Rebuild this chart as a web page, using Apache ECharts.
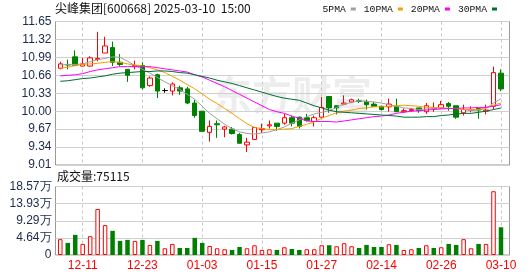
<!DOCTYPE html>
<html>
<head>
<meta charset="utf-8">
<script src="https://cdn.jsdelivr.net/npm/echarts@6/dist/echarts.min.js"></script>
<style>
  html, body { margin: 0; padding: 0; background: #fff; }
  #chart { width: 530px; height: 276px; }
</style>
</head>
<body>
<div id="chart"></div>
<script>
// 交易日
const dates = ['12-06','12-09','12-10','12-11','12-12','12-13','12-16','12-17','12-18','12-19','12-20','12-23','12-24','12-25','12-26','12-27','12-30','12-31',
  '01-02','01-03','01-06','01-07','01-08','01-09','01-10','01-13','01-14','01-15','01-16','01-17','01-20','01-21','01-22','01-23','01-24','01-27',
  '02-05','02-06','02-07','02-10','02-11','02-12','02-13','02-14','02-17','02-18','02-19','02-20','02-21','02-24','02-25','02-26','02-27','02-28',
  '03-03','03-04','03-05','03-06','03-07','03-10'];

// K线
const opens = [10.79,10.86,11.00,10.83,10.83,10.95,11.07,11.17,10.90,10.77,10.82,10.84,10.47,10.67,10.38,10.37,10.43,10.41,10.15,10.00,
  9.61,9.77,9.67,9.67,9.57,9.38,9.48,9.66,9.73,9.78,9.78,9.88,9.89,9.88,9.81,9.89,10.27,10.10,10.13,10.17,
  10.19,10.18,10.13,10.09,10.08,10.09,9.99,10.01,10.06,9.99,10.05,10.06,10.14,10.10,9.97,10.02,10.05,10.00,10.09,10.70];
const closes = [10.87,10.85,10.84,10.87,10.98,10.97,11.20,10.90,10.86,10.66,10.84,10.43,10.61,10.37,10.38,10.50,10.37,10.15,9.92,9.63,
  9.72,9.75,9.71,9.59,9.41,9.43,9.70,9.68,9.75,9.72,9.88,9.78,9.72,9.83,9.88,10.07,10.06,10.06,10.15,10.21,
  10.18,10.12,10.09,10.03,10.13,9.99,10.01,10.03,10.01,10.10,10.06,10.12,10.09,9.89,10.03,10.03,10.02,10.02,10.71,10.41];
const lows = [10.77,10.77,10.83,10.83,10.82,10.92,11.07,10.83,10.83,10.54,10.77,10.40,10.45,10.24,10.34,10.29,10.30,10.13,9.88,9.62,
  9.44,9.51,9.52,9.57,9.41,9.25,9.48,9.60,9.68,9.64,9.75,9.72,9.68,9.81,9.72,9.88,9.97,9.94,10.11,10.15,
  10.15,10.03,10.08,10.01,9.99,9.99,9.97,9.99,9.97,9.95,9.99,10.05,10.01,9.86,9.92,9.98,9.86,9.94,10.03,10.37];
const highs = [10.91,10.95,11.12,10.98,11.01,11.46,11.37,11.28,11.05,10.77,10.93,10.90,10.64,10.69,10.42,10.53,10.47,10.45,10.21,10.00,
  9.83,9.83,9.73,9.71,9.60,9.51,9.70,9.77,9.83,9.78,9.95,9.92,9.90,9.95,9.92,10.26,10.28,10.11,10.29,10.23,
  10.23,10.21,10.17,10.10,10.23,10.23,10.05,10.06,10.06,10.15,10.16,10.19,10.17,10.10,10.12,10.09,10.05,10.12,10.82,10.77];

// 均线
const ma5 = [10.85,10.86,10.86,10.87,10.91,10.95,10.97,11.00,10.99,10.92,10.84,10.77,10.70,10.62,10.54,10.47,10.40,10.31,10.22,10.09,
  9.96,9.86,9.76,9.68,9.62,9.59,9.58,9.60,9.62,9.66,9.71,9.78,9.84,9.90,9.95,9.98,10.01,10.07,10.13,10.16,
  10.19,10.18,10.17,10.15,10.12,10.09,10.06,10.05,10.03,10.04,10.05,10.06,10.05,10.05,10.03,10.01,10.02,10.05,10.15,10.23];
const ma10 = [10.79,10.81,10.84,10.86,10.87,10.88,10.90,10.91,10.90,10.87,10.85,10.83,10.80,10.76,10.71,10.64,10.57,10.49,10.41,10.32,
  10.22,10.14,10.05,9.96,9.86,9.77,9.70,9.68,9.66,9.66,9.67,9.68,9.72,9.76,9.80,9.87,9.92,9.97,10.00,10.02,
  10.05,10.06,10.08,10.08,10.09,10.10,10.11,10.10,10.09,10.07,10.07,10.06,10.05,10.05,10.03,10.03,10.03,10.07,10.11,10.15];
const ma20 = [10.65,10.66,10.67,10.69,10.73,10.76,10.78,10.80,10.82,10.82,10.82,10.82,10.82,10.80,10.78,10.76,10.74,10.72,10.67,10.63,
  10.57,10.51,10.45,10.38,10.31,10.24,10.17,10.10,10.03,9.99,9.96,9.91,9.87,9.82,9.81,9.81,9.81,9.80,9.82,9.84,
  9.86,9.88,9.90,9.91,9.93,9.96,9.98,10.00,10.01,10.02,10.03,10.04,10.05,10.05,10.06,10.06,10.07,10.07,10.09,10.12];
const ma30 = [10.55,10.56,10.58,10.60,10.61,10.63,10.65,10.68,10.70,10.71,10.72,10.73,10.73,10.74,10.74,10.73,10.71,10.70,10.67,10.64,
  10.61,10.57,10.54,10.51,10.47,10.43,10.39,10.35,10.31,10.27,10.24,10.22,10.20,10.15,10.10,10.06,10.02,9.99,9.98,9.97,
  9.96,9.95,9.94,9.93,9.92,9.91,9.89,9.89,9.89,9.90,9.90,9.92,9.93,9.95,9.96,9.96,9.98,10.00,10.03,10.06];

// 成交量
const volumes = [42900,32800,54600,30000,51000,124800,81000,65500,38200,41000,38200,41000,27300,38200,18200,30000,19100,19100,46400,32800,
  24600,18200,15500,13700,21800,18200,26400,13700,15500,13700,21000,16400,13700,15500,15500,26400,26400,23700,31900,23700,
  19100,27300,21800,21800,29200,27300,13700,15500,19100,26400,19100,21000,30000,27300,42900,18200,30000,30000,172900,75115];
// 1 = 红, 0 = 绿
const volumeUp = [1,0,0,1,1,1,1,0,0,0, 1,0,1,0,1,1,0,0,0,0, 1,1,1,0,0,1,1,1,1,0,
  1,0,0,1,1,1,0,1,1,1, 0,0,0,0,1,0,1,1,0,1, 0,1,0,0,1,1,0,1,1,0];

// 刻度
const priceTicks = [9.01, 9.34, 9.67, 10.00, 10.33, 10.66, 10.99, 11.32, 11.65];
const volTicks = [0, 46425, 92850, 139275, 185700];
const xTickLabels = ['12-11','12-23','01-03','01-15','01-27','02-14','02-26','03-10'];

const RED = '#ff0000';
const GREEN = '#008000';
const LABEL = '#1a2a4a';

const chart = echarts.init(document.getElementById('chart'));

const xTicks = xTickLabels.map(d => dates.indexOf(d));
const kData = dates.map((d, i) => [i, opens[i], closes[i], lows[i], highs[i]]);
const maLine = arr => arr.map((v, i) => [i, v]);
const volData = volumes.map((v, i) => ({
  value: [i, v],
  itemStyle: volumeUp[i]
    ? { color: '#fff', borderColor: RED, borderWidth: 1 }
    : { color: GREEN }
}));

function makeX(gridIndex, showLabel) {
  return {
    type: 'value', gridIndex: gridIndex,
    min: -0.64, max: 60.14,
    axisLine: { show: false },
    axisTick: { show: false, customValues: xTicks },
    axisLabel: {
      show: showLabel, customValues: xTicks,
      formatter: v => dates[Math.round(v)],
      color: RED, fontSize: 12, fontFamily: 'Liberation Sans', margin: 5
    },
    splitLine: { show: true, lineStyle: { color: '#c8c8c8', type: [3, 3] } }
  };
}

const option = {
  animation: false,
  backgroundColor: '#fff',
  title: [
    {
      text: '尖峰集团[600668] 2025-03-10  15:00',
      left: 55, top: 2, padding: 0,
      textStyle: { fontSize: 12, fontWeight: 'normal', color: '#111', fontFamily: 'Noto Sans CJK SC' }
    },
    {
      text: '成交量:75115',
      left: 57, top: 170, padding: 0,
      textStyle: { fontSize: 12, fontWeight: 'normal', color: '#111', fontFamily: 'Noto Sans CJK SC' }
    }
  ],
  legend: {
    data: ['5PMA', '10PMA', '20PMA', '30PMA'],
    right: 33, top: 4, padding: 0,
    align: 'right', icon: 'rect',
    itemWidth: 5, itemHeight: 3, itemGap: 8,
    selectedMode: false,
    textStyle: { fontSize: 9.7, fontFamily: 'Liberation Mono', color: '#111' }
  },
  graphic: [
    {
      type: 'text', left: 212, top: 75, z: -1, silent: true,
      style: { text: '东方财富', font: 'bold 40px "Noto Sans CJK SC"', fill: 'rgba(0,0,0,0.07)' }
    }
  ],
  grid: [
    { left: 55.5, top: 21.5, width: 454, height: 143.5, show: true, borderColor: '#999', borderWidth: 1, outerBoundsMode: 'none' },
    { left: 55.5, top: 186.5, width: 454, height: 68.5, show: true, borderColor: '#999', borderWidth: 1, outerBoundsMode: 'none' }
  ],
  xAxis: [makeX(0, false), makeX(1, true)],
  yAxis: [
    {
      type: 'value', gridIndex: 0, min: 9.01, max: 11.65, scale: true,
      axisLine: { show: false },
      axisTick: { show: false, customValues: priceTicks },
      axisLabel: {
        customValues: priceTicks, formatter: v => v.toFixed(2),
        color: LABEL, fontSize: 12, fontFamily: 'Liberation Sans', margin: 4
      },
      splitLine: { show: true, lineStyle: { color: '#d0d0d0' } }
    },
    {
      type: 'value', gridIndex: 1, min: 0, max: 185700,
      axisLine: { show: false },
      axisTick: { show: false, customValues: volTicks },
      axisLabel: {
        customValues: volTicks,
        formatter: v => v === 0 ? '0' : (Math.round(v / 100) / 100).toFixed(2) + '万',
        color: LABEL, fontSize: 12, fontFamily: 'Liberation Sans', margin: 4
      },
      splitLine: { show: true, lineStyle: { color: '#d0d0d0' } }
    }
  ],
  series: [
    {
      type: 'candlestick', xAxisIndex: 0, yAxisIndex: 0,
      data: kData, barWidth: 5,
      itemStyle: {
        color: '#fff', color0: GREEN,
        borderColor: RED, borderColor0: GREEN, borderColorDoji: '#000',
        borderWidth: 1
      }
    },
    { name: '5PMA', type: 'line', xAxisIndex: 0, yAxisIndex: 0, data: maLine(ma5), showSymbol: false, color: '#a0a0a0', lineStyle: { width: 1 } },
    { name: '10PMA', type: 'line', xAxisIndex: 0, yAxisIndex: 0, data: maLine(ma10), showSymbol: false, color: '#f0a000', lineStyle: { width: 1 } },
    { name: '20PMA', type: 'line', xAxisIndex: 0, yAxisIndex: 0, data: maLine(ma20), showSymbol: false, color: '#ff00ff', lineStyle: { width: 1 } },
    { name: '30PMA', type: 'line', xAxisIndex: 0, yAxisIndex: 0, data: maLine(ma30), showSymbol: false, color: '#006e32', lineStyle: { width: 1 } },
    {
      type: 'bar', xAxisIndex: 1, yAxisIndex: 1,
      data: volData, barWidth: 4.5
    }
  ]
};

chart.setOption(option);
</script>
</body>
</html>
